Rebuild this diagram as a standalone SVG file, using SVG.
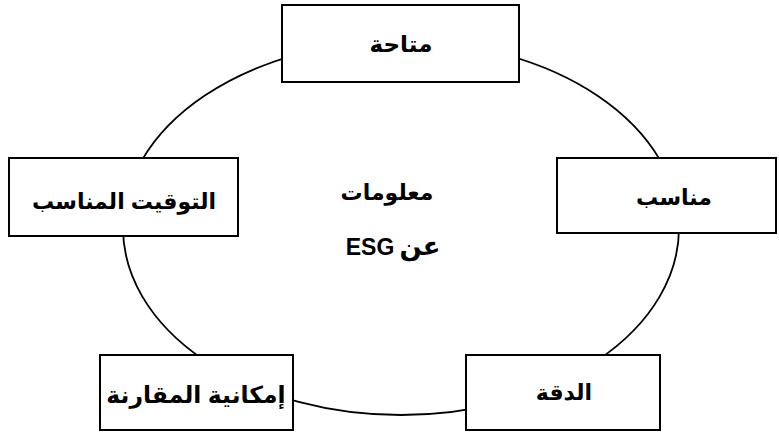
<svg xmlns="http://www.w3.org/2000/svg" width="779" height="432" viewBox="0 0 779 432">
  <style>
    .box { fill: #ffffff; stroke: #000000; stroke-width: 2; }
    .ring { fill: none; stroke: #000000; stroke-width: 1.8; }
    .lbl { font-family: "Liberation Sans", "DejaVu Sans", sans-serif; font-weight: bold; font-size: 22px; fill: #000000; text-anchor: middle; }
  </style>
  <rect width="779" height="432" fill="#ffffff"/>
  <g id="connectors">
    <ellipse class="ring" cx="401" cy="228" rx="278" ry="187"/>
  </g>
  <g id="center">
    <text class="lbl" x="387" y="200" direction="rtl">معلومات</text>
    <text class="lbl" x="420" y="255" direction="rtl" style="font-size:26px">عن</text>
    <text class="lbl" x="370" y="255" style="font-size:23px">ESG</text>
  </g>
  <g id="node-available">
    <rect class="box" x="282" y="5" width="237" height="77"/>
    <text class="lbl" x="401" y="52" direction="rtl" style="font-size:23px">متاحة</text>
  </g>
  <g id="node-timing">
    <rect class="box" x="9" y="158" width="229" height="78"/>
    <text class="lbl" x="124" y="209" direction="rtl">التوقيت المناسب</text>
  </g>
  <g id="node-relevant">
    <rect class="box" x="557" y="158" width="219" height="75"/>
    <text class="lbl" x="674" y="205" direction="rtl">مناسب</text>
  </g>
  <g id="node-comparability">
    <rect class="box" x="100" y="355" width="193" height="75"/>
    <text class="lbl" x="196" y="403" direction="rtl" style="font-size:23.5px">إمكانية المقارنة</text>
  </g>
  <g id="node-accuracy">
    <rect class="box" x="466" y="355" width="194" height="75"/>
    <text class="lbl" x="564" y="400" direction="rtl">الدقة</text>
  </g>
</svg>
